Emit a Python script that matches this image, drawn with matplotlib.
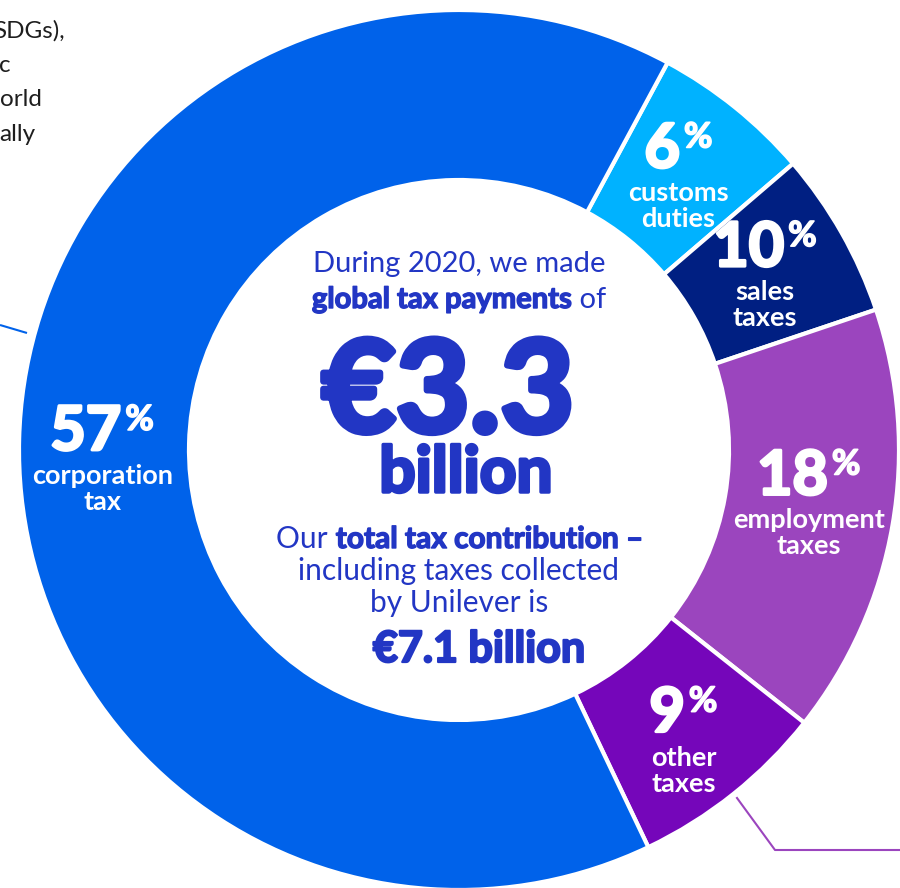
import math
import matplotlib
matplotlib.use("Agg")
import matplotlib.pyplot as plt
import matplotlib.patheffects as pe

# ---------------- data ----------------
categories = ["customs duties", "sales taxes", "employment taxes", "other taxes", "corporation tax"]
pct_labels = [6, 10, 18, 9, 57]                      # percentages printed on the ring
arc_shares = [5.86, 6.11, 15.81, 7.28, 64.94]        # share of the circle each segment occupies in the picture
name_lines = [("customs", "duties"), ("sales", "taxes"), ("employment", "taxes"),
              ("other", "taxes"), ("corporation", "tax")]
colors = ["#00B2FF", "#001F82", "#9B45BE", "#7506BA", "#0062EA"]

headline_amount = "€3.3"
headline_unit = "billion"
total_contribution = "€7.1 billion"
side_text = ["SDGs),", "c", "orld", "ally"]

# ---------------- layout ----------------
FONT = "Lato"
TXT = "#2236C4"
fig = plt.figure(figsize=(9, 8.88), dpi=100)
ax = fig.add_axes([0, 0, 1, 1])
cx, cy, R, RING = 459, 450, 440, 170

wedges, _ = ax.pie(arc_shares, colors=colors, startangle=-61.7, counterclock=True,
                   radius=R, center=(cx, cy),
                   wedgeprops=dict(width=RING, edgecolor="white", linewidth=3))
ax.set_xlim(0, 900)
ax.set_ylim(888, 0)
ax.set_aspect("equal")
ax.axis("off")

renderer = fig.canvas.get_renderer()


def row(x, y, segs, color, gap=0):
    """segs: (text, size, weight, dy, stroke)"""
    objs = []
    for s, fs, wt, dy, st in segs:
        t = ax.text(0, y + dy, s, fontsize=fs, fontweight=wt, color=color,
                    ha="left", va="baseline", family=FONT)
        if st:
            t.set_path_effects([pe.withStroke(linewidth=st, foreground=color)])
        objs.append(t)
    ws = [o.get_window_extent(renderer).width for o in objs]
    total = sum(ws) + gap * (len(objs) - 1)
    cur = x - total / 2
    for o, w in zip(objs, ws):
        o.set_x(cur)
        cur += w + gap


# segment labels
label_r = [350, 352, 354, 368, 357]
label_nudge = [0, 0, -1, 1, -3]
for i, w in enumerate(wedges):
    m = math.radians((w.theta1 + w.theta2) / 2 + label_nudge[i])
    px = cx + label_r[i] * math.cos(m)
    py = cy + label_r[i] * math.sin(m)
    B = py - 10
    row(px, B, [(str(pct_labels[i]), 44, "bold", 0, 2.2), ("%", 25, "bold", -20, 1.2)], "white", gap=4)
    for k, dy in enumerate([34, 60]):
        ax.text(px, B + dy, name_lines[i][k], ha="center", va="baseline", fontsize=19.5,
                fontweight="bold", color="white", family=FONT)

# centre text
row(459, 272, [("During 2020, we made", 21, "normal", 0, 0)], TXT)
row(459, 308, [("global tax payments", 21, "bold", 0, 1.0), (" of", 21, "normal", 0, 0)], TXT)
row(448, 432, [(headline_amount, 92, "bold", 0, 4.5)], TXT)
row(466, 492, [(headline_unit, 46, "bold", 0, 2.5)], TXT)
row(460, 548, [("Our ", 21.5, "normal", 0, 0), ("total tax contribution –", 21.5, "bold", 0, 1.0)], TXT)
row(459, 580, [("including taxes collected", 21.5, "normal", 0, 0)], TXT)
row(459, 612, [("by Unilever is", 21.5, "normal", 0, 0)], TXT)
row(479, 662, [(total_contribution, 31, "bold", 0, 1.6)], TXT)

# side text fragments (cut by the page edge)
for s, xr, yb in zip(side_text, [65, 11, 42, 35], [38, 72, 106, 141]):
    ax.text(xr, yb, s, ha="right", va="baseline", fontsize=17.5, color="#1E1E1E", family=FONT)

# leader lines
ax.plot([0, 27], [325, 333], color="#0062EA", lw=1.5, solid_capstyle="butt")
ax.plot([737, 775, 900], [798, 850, 850], color="#9B45BE", lw=1.5)

ax.set_xlim(0, 900)
ax.set_ylim(888, 0)
fig.savefig("out.png", dpi=100)
